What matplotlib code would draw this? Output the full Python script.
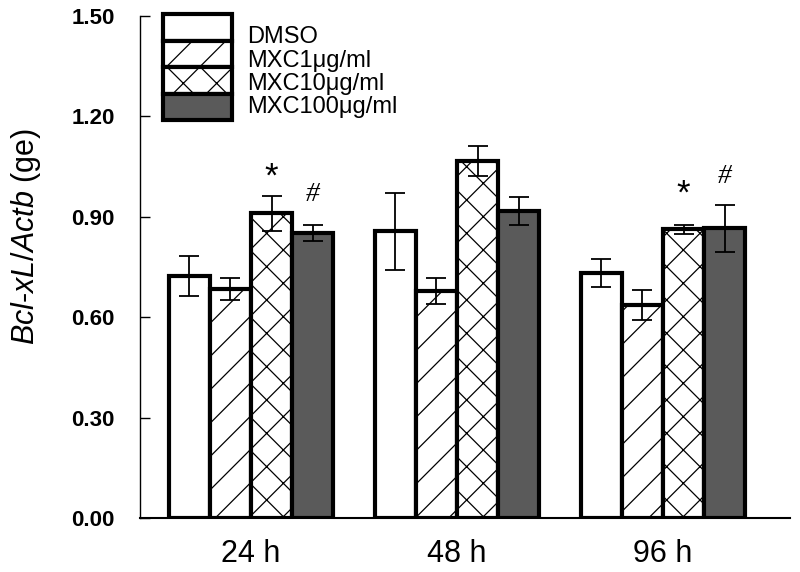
import matplotlib
matplotlib.use("Agg")
import matplotlib.pyplot as plt
from matplotlib.patches import Rectangle
import numpy as np

plt.rcParams['font.family'] = ['Liberation Sans', 'DejaVu Sans']
plt.rcParams['mathtext.fontset'] = 'custom'
plt.rcParams['mathtext.rm'] = 'Liberation Sans'
plt.rcParams['mathtext.it'] = 'Liberation Sans:italic'
plt.rcParams['hatch.linewidth'] = 0.9

groups = ['24 h', '48 h', '96 h']
series = ['DMSO', 'MXC1μg/ml', 'MXC10μg/ml', 'MXC100μg/ml']
means = {
    'DMSO':        [0.723, 0.857, 0.732],
    'MXC1μg/ml':   [0.684, 0.678, 0.636],
    'MXC10μg/ml':  [0.911, 1.067, 0.863],
    'MXC100μg/ml': [0.851, 0.917, 0.866],
}
errors = {
    'DMSO':        [0.060, 0.115, 0.042],
    'MXC1μg/ml':   [0.034, 0.040, 0.045],
    'MXC10μg/ml':  [0.052, 0.045, 0.014],
    'MXC100μg/ml': [0.024, 0.042, 0.070],
}
yticks = [0.00, 0.30, 0.60, 0.90, 1.20, 1.50]
# significance marks: (group index, series index, y, symbol)
marks = [(0, 2, 1.018, '*'), (0, 3, 0.968, '#'), (2, 2, 0.968, '*'), (2, 3, 1.020, '#')]

fills = ['white', 'white', 'white', '#5a5a5a']
hatches = [None, '/', 'x', None]

fig = plt.figure(figsize=(8, 5.72), dpi=100)
ax = fig.add_axes([0.175, 0.0944, 0.8125, 0.8776])

x = np.arange(len(groups))
width = 0.2
offsets = [-0.3, -0.1, 0.1, 0.3]
for i, s in enumerate(series):
    ax.bar(x + offsets[i], means[s], width, color=fills[i], edgecolor='black',
           linewidth=3, hatch=hatches[i], zorder=2)
    ax.errorbar(x + offsets[i], means[s], yerr=errors[s], fmt='none', ecolor='black',
                elinewidth=1.3, capsize=7, capthick=1.3, zorder=3)

for g, si, yv, sym in marks:
    if sym == '*':
        ax.text(x[g] + offsets[si], yv, sym, ha='center', va='center', fontsize=25,
                family='Liberation Sans')
    else:
        ax.text(x[g] + offsets[si], yv, sym, ha='center', va='center', fontsize=20,
                family='Liberation Serif', style='italic')

ax.set_xlim(-0.539, 2.617)
ax.set_ylim(0, 1.5)
ax.set_xticks(x)
ax.set_xticklabels(groups, fontsize=22)
ax.set_yticks(yticks)
ax.set_yticklabels([f'{v:.2f}' for v in yticks], fontsize=16, fontweight='bold')
ax.tick_params(axis='x', length=0, pad=15)
ax.tick_params(axis='y', direction='in', length=7, width=1, pad=18)
ax.spines['top'].set_visible(False)
ax.spines['right'].set_visible(False)
ax.spines['left'].set_linewidth(1.0)
ax.spines['bottom'].set_linewidth(1.5)

ax.text(-0.175, 0.56, r'$Bcl$-$xL/Actb$ (ge)', transform=ax.transAxes, rotation=90,
        ha='center', va='center', fontsize=22)

# legend drawn manually
def fy(py):
    return (518 - py) / 502.0

x0 = (163 - 140) / 650.0
x1 = (232 - 140) / 650.0
rows = [14, 40.5, 67, 93.5, 120]
label_y = [37, 61, 84, 107]
for i, s in enumerate(series):
    r = Rectangle((x0, fy(rows[i + 1])), x1 - x0, fy(rows[i]) - fy(rows[i + 1]),
                  transform=ax.transAxes, facecolor=fills[i], edgecolor='black',
                  linewidth=3, hatch=hatches[i], clip_on=False, zorder=4)
    ax.add_patch(r)
    ax.text((247 - 140) / 650.0, fy(label_y[i]), s, transform=ax.transAxes,
            ha='left', va='center', fontsize=17, zorder=5)

fig.savefig('out.png', dpi=100)
